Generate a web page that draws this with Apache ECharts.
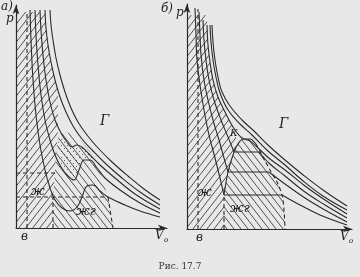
<!DOCTYPE html>
<html><head><meta charset="utf-8">
<script src="https://cdn.jsdelivr.net/npm/echarts@6/dist/echarts.min.js"></script>
<style>html,body{margin:0;padding:0;background:#e8e8e8}#c{width:360px;height:277px}</style>
</head><body><div id="c"></div>
<script>
// ---------- Panel а) : van der Waals isotherms with loops (V, p in arbitrary units) ----------
const a_iso5 = [[34,218],[35,203],[37,188],[40,170],[44,153],[49,136],[55,120],[62,106],[71,93],[82,80],[96,66],[112,52],[128,39],[144,28]];
const a_iso4 = [[29,218],[30,200],[32,183],[35,166],[39,148],[44,131],[50,116],[57,102],[66,89],[77,77],[90,64],[106,50],[124,36],[144,23]];
const a_iso3 = [[24,218],[25,198],[27,173],[30,148],[34,126],[39,108],[45,95],[51,86],[56,81],[61,83],[67,80],[74,73],[84,63],[99,50],[119,34],[144,19]];
const a_iso2 = [[19,218],[20,193],[22,163],[25,133],[29,108],[34,88],[39,73],[45,61],[52,52],[58,48],[63,58],[68,68],[74,68],[81,60],[89,50],[104,38],[124,25],[144,15]];
const a_iso1 = [[14,218],[15,188],[17,148],[20,113],[24,83],[29,58],[34,40],[39,28],[46,20],[54,17],[61,21],[66,31],[71,42],[77,43],[84,37],[92,31],[109,23],[124,17],[144,11]];
const a_bLine = [[11,0],[11,215]];
const a_dash1 = [[0,55],[42,55]];
const a_dash2 = [[0,31],[92,31]];
const a_domeRight = [[92,31],[97,0]];
const a_domeLeft = [[37,0],[37,31]];
const a_liquidRegion = [[0,0],[0,216],[29,216],[30,200],[32,183],[35,166],[39,148],[42,133],[42,98],[40,73],[39,56],[37,31],[37,0]];
const a_twoPhaseRegion = [[37,0],[37,31],[39,56],[40,73],[42,90],[45,95],[51,96],[58,92],[66,86],[74,76],[84,56],[92,31],[97,0]];
const a_metastableRegion = [[42,88],[45,95],[51,86],[56,81],[61,83],[67,80],[74,73],[79,66],[74,68],[68,68],[63,58],[58,48],[52,52],[46,60],[43,72]];

// ---------- Panel б) : isotherms with horizontal tie lines ----------
const b_iso6 = [[25,204],[26,187],[28,169],[31,152],[35,137],[43,123],[55,109],[67,98],[81,84],[98,69],[115,55],[136,39],[160,23]];
const b_iso5 = [[23,204],[24,187],[26,169],[29,152],[33,136],[41,119],[53,105],[65,94],[81,78],[98,64],[115,49],[136,33],[160,19]];
const b_iso4 = [[20,204],[21,184],[23,167],[26,149],[31,132],[38,117],[46,102],[55,91],[63,88],[71,81],[83,70],[98,59],[118,43],[138,29],[160,15]];
const b_iso3_liq = [[16,209],[17,189],[19,169],[22,149],[27,129],[34,109],[41,92],[47,77]];
const b_iso3_tie = [[47,77],[72,77]];
const b_iso3_gas = [[72,77],[83,65],[98,53],[118,37],[138,24],[160,11]];
const b_iso2_liq = [[12,217],[13,194],[14,174],[17,149],[21,129],[26,109],[32,89],[37,71],[41,57]];
const b_iso2_tie = [[41,57],[82,57]];
const b_iso2_gas = [[82,57],[98,45],[118,31],[138,19],[160,7]];
const b_iso1_liq = [[8,221],[9,194],[10,169],[13,144],[17,119],[22,94],[28,71],[33,51],[37,34]];
const b_iso1_tie = [[37,34],[95,34]];
const b_iso1_gas = [[95,34],[113,24],[133,14],[160,4]];
const b_bLine = [[11,0],[11,220]];
const b_domeTop = [[37,34],[41,57],[47,77],[51,85],[56,90],[63,90],[69,85]];
const b_domeRight = [[69,85],[76,72],[83,59],[90,47],[95,34],[97,19],[98,0]];
const b_domeLeft = [[37,0],[37,34]];
const b_liquidRegion = [[0,0],[0,214],[20,214],[20,204],[21,184],[23,167],[26,149],[31,132],[38,117],[46,102],[51,85],[47,77],[41,57],[37,34],[37,0]];
const b_twoPhaseRegion = [[37,0],[37,34],[41,57],[47,77],[51,85],[56,90],[63,90],[69,85],[76,72],[83,59],[90,47],[95,34],[97,19],[98,0]];

const INK = '#2a2a2a';
function hatch(dir){
  const w=7,h=9,c=document.createElement('canvas');c.width=w;c.height=h;
  const g=c.getContext('2d');g.strokeStyle='rgba(45,45,45,0.9)';g.lineWidth=0.9;g.beginPath();
  if(dir>0){g.moveTo(0,h);g.lineTo(w,0);g.moveTo(-w,h);g.lineTo(0,0);g.moveTo(w,h);g.lineTo(2*w,0);}
  else{g.moveTo(0,0);g.lineTo(w,h);g.moveTo(-w,0);g.lineTo(0,h);g.moveTo(w,0);g.lineTo(2*w,h);}
  g.stroke();return c;
}
function dots(){
  const c=document.createElement('canvas');c.width=6;c.height=6;const g=c.getContext('2d');
  g.fillStyle='rgba(50,50,50,0.75)';g.fillRect(1,1,1,1);g.fillRect(4,4,1,1);return c;
}
const HF={image:hatch(1),repeat:'repeat'}, HB={image:hatch(-1),repeat:'repeat'}, DT={image:dots(),repeat:'repeat'};

function poly(gi,pts,fill){
  return {type:'custom',xAxisIndex:gi,yAxisIndex:gi,data:pts,silent:true,z:1,clip:false,
    renderItem:(p,api)=>p.dataIndex!==0?null:{type:'polygon',shape:{points:pts.map(q=>api.coord(q))},style:{fill:fill,stroke:null}}};
}
function line(gi,d,opt){
  opt=opt||{};
  return {type:'line',xAxisIndex:gi,yAxisIndex:gi,data:d,showSymbol:false,symbol:'none',silent:true,z:3,
    smooth:opt.smooth===undefined?0.4:opt.smooth,
    lineStyle:{color:INK,width:opt.w||1.1,type:opt.dash?[4,3]:'solid'}};
}
function axes(max){
  return {type:'value',min:0,max:max,splitLine:{show:false},axisTick:{show:false},axisLabel:{show:false},
    axisLine:{onZero:false,symbol:['none','arrow'],symbolSize:[5,9],lineStyle:{color:INK,width:1.2}}};
}
const chart=echarts.init(document.getElementById('c'),null,{renderer:'canvas'});
const T=(x,y,t,sz)=>({type:'text',x:x,y:y,z:10,style:{text:t,fill:'#222',font:'italic '+sz+'px "DejaVu Serif"'}});
chart.setOption({
  animation:false,backgroundColor:'#e8e8e8',
  grid:[{left:16,top:5,width:151,height:223},{left:187,top:4,width:165,height:225}],
  xAxis:[Object.assign(axes(151),{gridIndex:0}),Object.assign(axes(165),{gridIndex:1})],
  yAxis:[Object.assign(axes(223),{gridIndex:0}),Object.assign(axes(225),{gridIndex:1})],
  series:[
    poly(0,a_liquidRegion,HF),poly(0,a_twoPhaseRegion,HB),poly(0,a_metastableRegion,DT),
    poly(1,b_liquidRegion,HF),poly(1,b_twoPhaseRegion,HB),
    line(0,a_iso5),line(0,a_iso4),line(0,a_iso3),line(0,a_iso2),line(0,a_iso1),
    line(0,a_bLine,{dash:1,smooth:0}),line(0,a_dash1,{dash:1,smooth:0}),line(0,a_dash2,{dash:1,smooth:0}),
    line(0,a_domeRight,{dash:1,smooth:0}),line(0,a_domeLeft,{dash:1,smooth:0}),
    line(1,b_iso6),line(1,b_iso5),line(1,b_iso4),
    line(1,b_iso3_liq),line(1,b_iso3_tie,{smooth:0}),line(1,b_iso3_gas),
    line(1,b_iso2_liq),line(1,b_iso2_tie,{smooth:0}),line(1,b_iso2_gas),
    line(1,b_iso1_liq),line(1,b_iso1_tie,{smooth:0}),line(1,b_iso1_gas),
    line(1,b_bLine,{dash:1,smooth:0}),line(1,b_domeTop,{smooth:0.3}),
    line(1,b_domeRight,{dash:1,smooth:0.3}),line(1,b_domeLeft,{dash:1,smooth:0})
  ],
  graphic:[
    T(1,1,'а)',12),T(6,13,'р',12),
    T(161,3,'б)',12),T(176,7,'р',12),
    T(21,231,'в',12),T(196,232,'в',12),
    T(155,230,'V',12),T(164,237,'o',7),
    T(340,231,'V',12),T(349,238,'o',7),
    T(100,114,'Г',14),T(279,117,'Г',14),
    T(230,128,'К',10),
    T(31,186,'ж',12),T(76,206,'жг',12),
    T(198,187,'ж',12),T(230,203,'жг',12),
    {type:'text',x:180,y:262,z:10,style:{text:'Рис. 17.7',fill:'#333',font:'9px "DejaVu Serif"',textAlign:'center'}}
  ]
});
</script></body></html>
